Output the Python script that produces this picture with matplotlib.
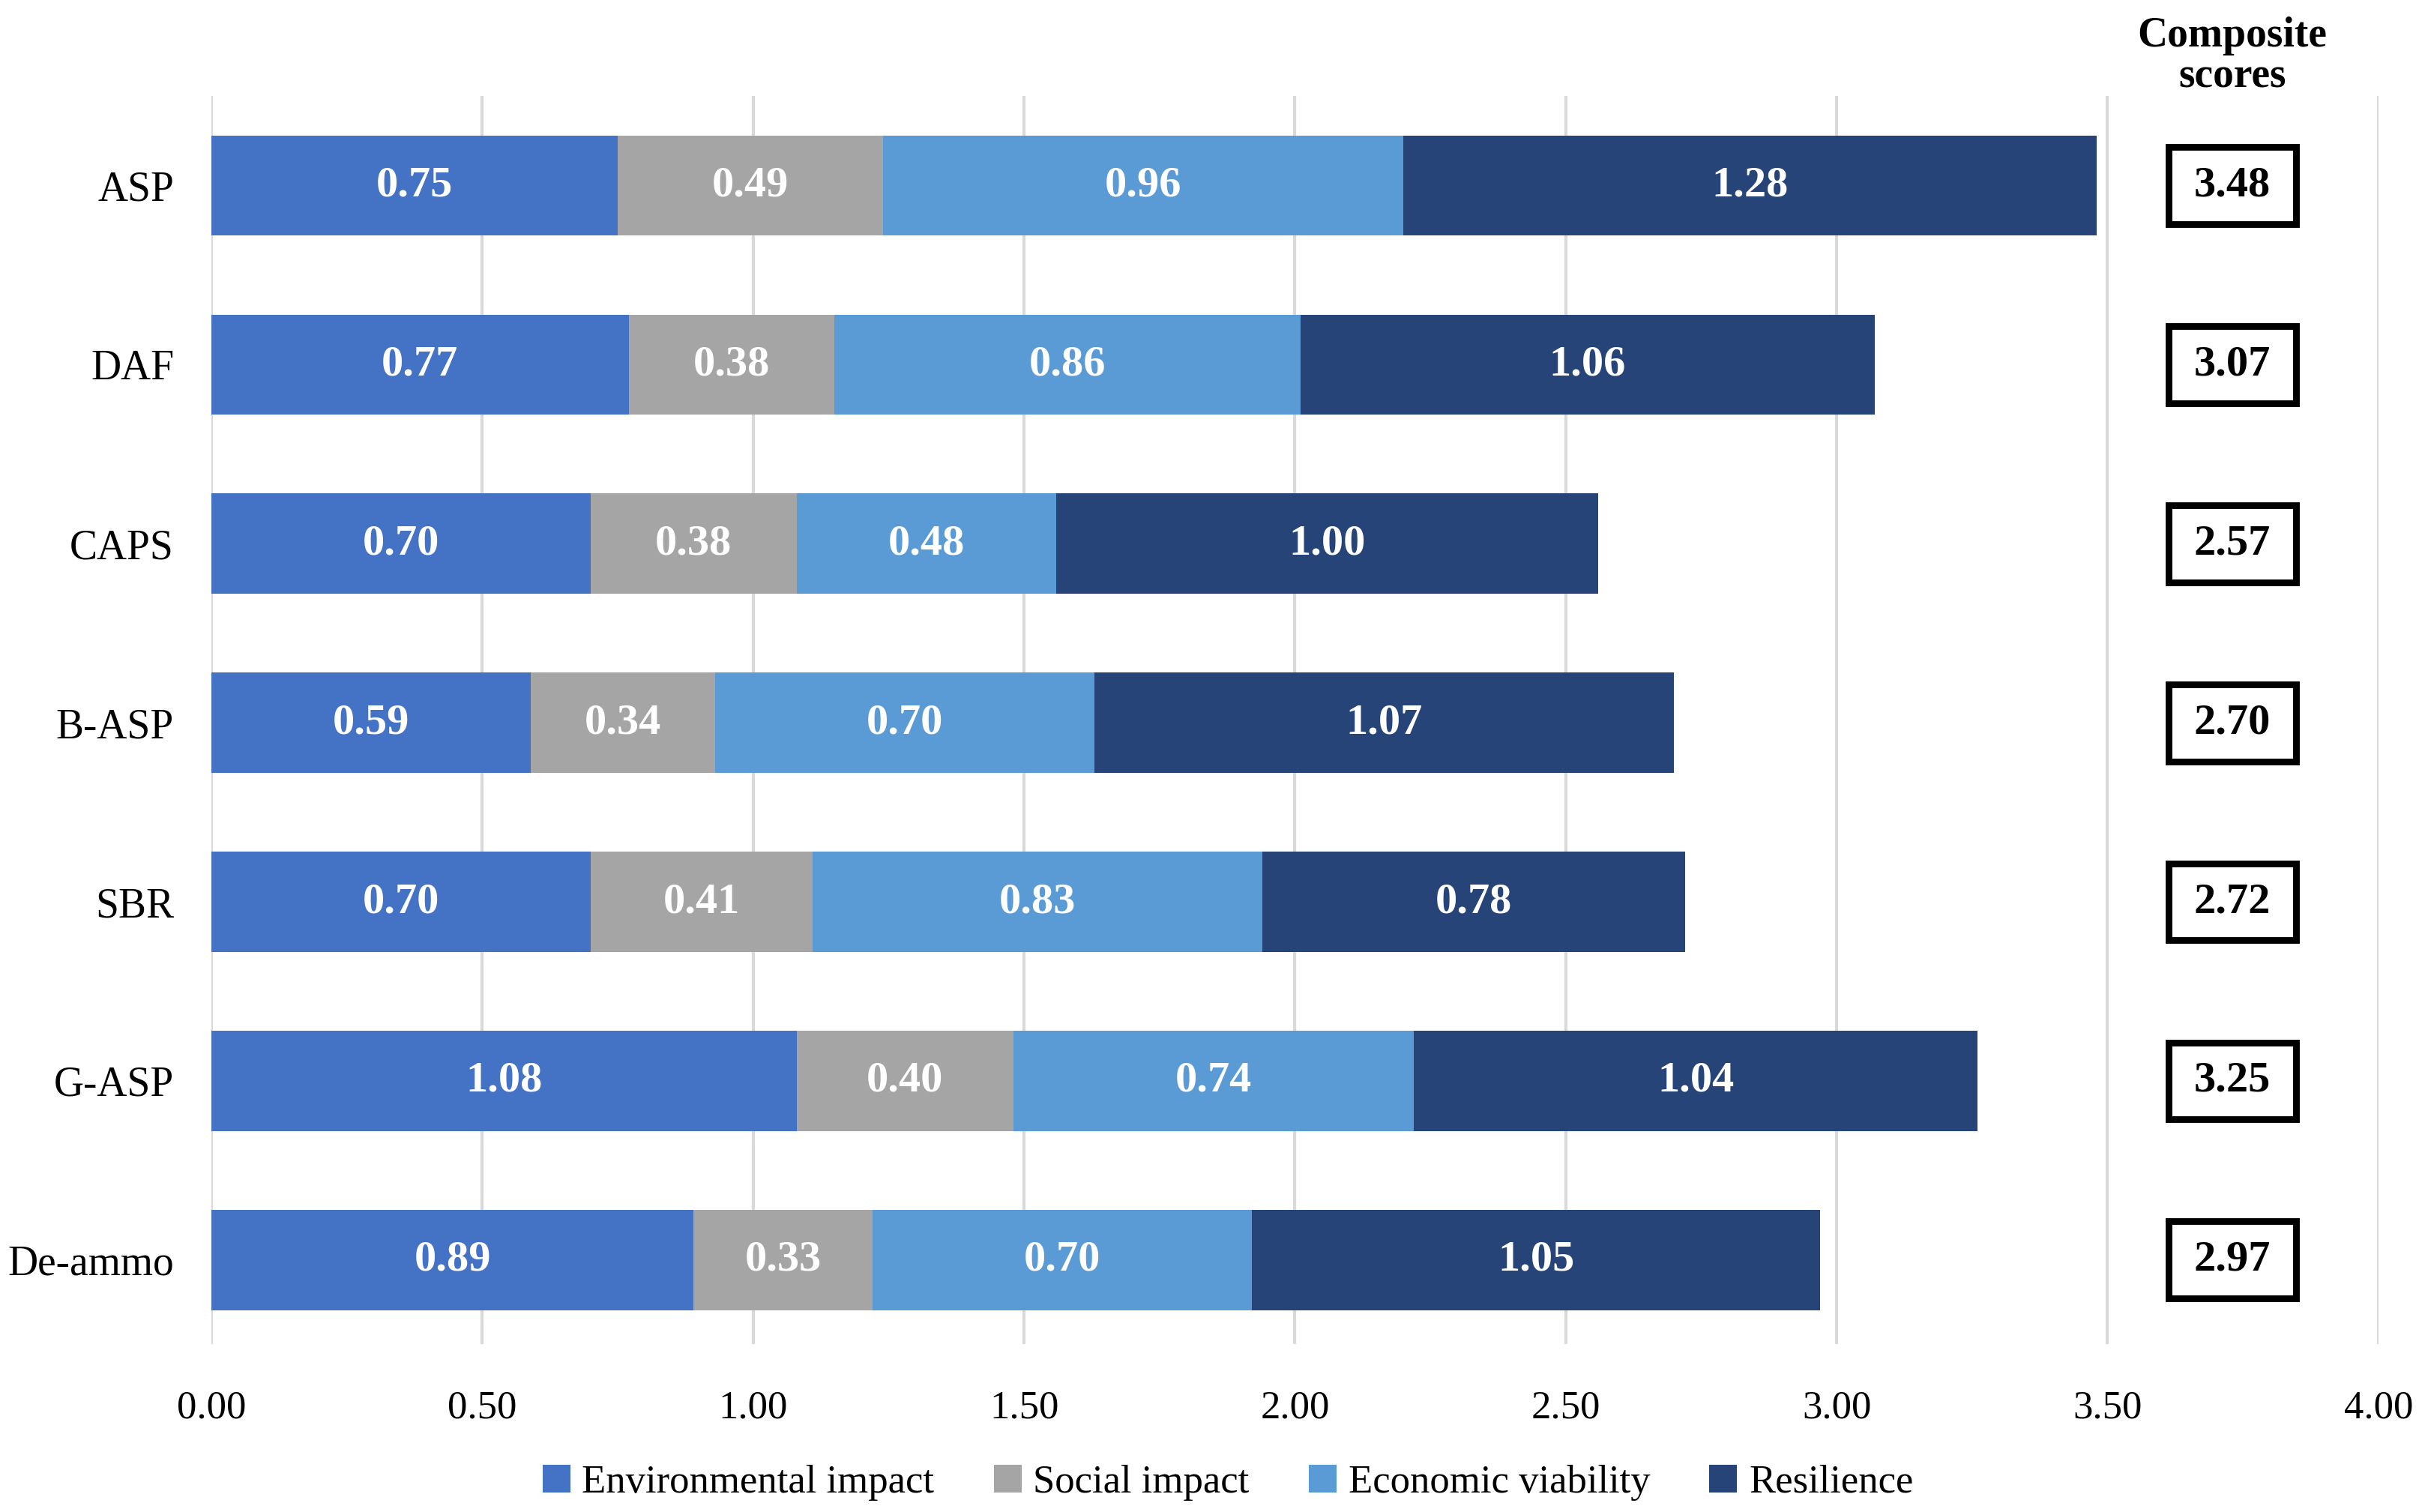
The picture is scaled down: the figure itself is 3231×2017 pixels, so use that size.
import numpy as np
import matplotlib
matplotlib.use("Agg")
import matplotlib.pyplot as plt
from matplotlib.patches import Rectangle

plt.rcParams['font.family'] = ['Liberation Serif', 'DejaVu Serif']

# data
processes = ["ASP", "DAF", "CAPS", "B-ASP", "SBR", "G-ASP", "De-ammo"]
environmental = [0.75, 0.77, 0.70, 0.59, 0.70, 1.08, 0.89]
social = [0.49, 0.38, 0.38, 0.34, 0.41, 0.40, 0.33]
economic = [0.96, 0.86, 0.48, 0.70, 0.83, 0.74, 0.70]
resilience = [1.28, 1.06, 1.00, 1.07, 0.78, 1.04, 1.05]
composite = [3.48, 3.07, 2.57, 2.70, 2.72, 3.25, 2.97]

series_names = ["Environmental impact", "Social impact", "Economic viability", "Resilience"]
series_colors = ["#4472C4", "#A5A5A5", "#5B9BD5", "#264478"]
series = [environmental, social, economic, resilience]

fig = plt.figure(figsize=(3231 / 200, 2017 / 200), dpi=200)
ax = fig.add_axes([0.0873, 0.111, 0.8947, 0.8255])

y = np.arange(len(processes))
left = np.zeros(len(processes))
for vals, name, col in zip(series, series_names, series_colors):
    vals = np.array(vals)
    ax.barh(y, vals, left=left, height=0.56, color=col, label=name, zorder=3)
    for yi, l, v in zip(y, left, vals):
        ax.text(l + v / 2, yi, f"{v:.2f}", ha='center', va='center',
                color='white', fontsize=21, fontweight='bold', zorder=4)
    left += vals

# composite score boxes
box_x = 3.73
for yi, c in zip(y, composite):
    ax.add_patch(Rectangle((box_x - 0.1175, yi - 0.215), 0.235, 0.43,
                           facecolor='white', edgecolor='black', linewidth=3.2,
                           zorder=5, clip_on=False))
    ax.text(box_x, yi, f"{c:.2f}", ha='center', va='center', fontsize=21,
            fontweight='bold', zorder=6)
ax.text(box_x, 1.0, "Composite\nscores", transform=ax.get_xaxis_transform(),
        ha='center', va='bottom', fontsize=20, fontweight='bold', linespacing=1.05)

ax.set_xlim(0, 4.0)
ax.set_ylim(len(processes) - 0.53, -0.5)
ax.set_xticks(np.arange(0, 4.01, 0.5))
ax.set_xticklabels([f"{v:.2f}" for v in np.arange(0, 4.01, 0.5)], fontsize=19)
ax.set_yticks(y)
ax.set_yticklabels(processes, fontsize=20)
ax.tick_params(axis='y', length=0, pad=18)
ax.tick_params(axis='x', length=0, pad=22)
ax.grid(axis='x', color='#D9D9D9', linewidth=1.5, zorder=0)
for s in ax.spines.values():
    s.set_visible(False)

fig.legend(loc='lower center', bbox_to_anchor=(0.507, -0.016), ncol=4, frameon=False,
           fontsize=19, handlelength=0.7, handleheight=0.7, handletextpad=0.3,
           columnspacing=1.5)

fig.savefig("out.png", dpi=200, facecolor='white')
